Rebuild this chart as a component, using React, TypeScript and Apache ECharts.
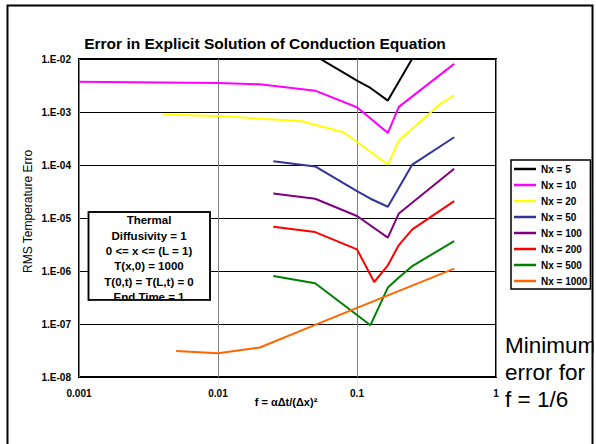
import React, { useEffect, useRef } from "react";
import * as echarts from "echarts";

const seriesNames = ["Nx = 5", "Nx = 10", "Nx = 20", "Nx = 50", "Nx = 100", "Nx = 200", "Nx = 500", "Nx = 1000"];
const seriesColors = ["#000000", "#FF00FF", "#FFFF00", "#333399", "#800080", "#FF0000", "#008000", "#FF6600"];

// [f, RMS error]
const nx5 = [[0.05, 0.0115], [0.1, 0.0039], [0.125, 0.00284], [0.1667, 0.00164], [0.25, 0.0102]];
const nx10 = [[0.001, 0.00374], [0.01, 0.00353], [0.02, 0.00333], [0.05, 0.00253], [0.1, 0.00123], [0.1667, 0.000404], [0.2, 0.00125], [0.5, 0.0081]];
const nx20 = [[0.004, 0.000893], [0.01, 0.000845], [0.04, 0.000668], [0.08, 0.000415], [0.1667, 0.000102], [0.2, 0.000289], [0.4, 0.00144], [0.5, 0.00207]];
const nx50 = [[0.025, 1.18e-4], [0.05, 9.4e-5], [0.1, 3.21e-5], [0.125, 2.31e-5], [0.1667, 1.63e-5], [0.25, 1.02e-4], [0.5, 3.34e-4]];
const nx100 = [[0.025, 2.9e-5], [0.05, 2.31e-5], [0.1, 1.09e-5], [0.1667, 4.26e-6], [0.2, 1.22e-5], [0.5, 8.47e-5]];
const nx200 = [[0.025, 6.86e-6], [0.05, 5.43e-6], [0.1, 2.56e-6], [0.133, 6.2e-7], [0.1667, 1.28e-6], [0.2, 3.09e-6], [0.25, 6.1e-6], [0.5, 2.08e-5]];
const nx500 = [[0.025, 8.05e-7], [0.05, 5.86e-7], [0.125, 9.5e-8], [0.1667, 4.86e-7], [0.2, 7.52e-7], [0.25, 1.24e-6], [0.5, 3.67e-6]];
const nx1000 = [[0.005, 3.11e-8], [0.01, 2.82e-8], [0.02, 3.6e-8], [0.05, 9.6e-8], [0.1, 2.02e-7], [0.5, 1.11e-6]];
const allSeries = [nx5, nx10, nx20, nx50, nx100, nx200, nx500, nx1000];

const xTickLabels = ["0.001", "0.01", "0.1", "1"];
const yTickLabels = ["1.E-02", "1.E-03", "1.E-04", "1.E-05", "1.E-06", "1.E-07", "1.E-08"];

const titleText = "Error in Explicit Solution of Conduction Equation";
const xAxisTitle = "f = αΔt/(Δx)²";
const yAxisTitle = "RMS Temperature Error";
const boxLines = ["Thermal", "Diffusivity = 1", "0 <= x <= (L = 1)", "T(x,0) = 1000", "T(0,t) = T(L,t) = 0", "End Time = 1"];
const noteLines = ["Minimum", "error for", "f = 1/6"];

const FONT = '"Liberation Sans", Arial, sans-serif';

export default function App() {
  const ref = useRef<HTMLDivElement>(null);
  useEffect(() => {
    document.body.style.margin = "0";
    const chart = echarts.init(ref.current!, null, { renderer: "svg" });
    const txt = (text: string, x: number, y: number, font: string, align = "center", extra: any = {}) => ({
      type: "text",
      x,
      y,
      z: 50,
      ...extra,
      style: { text, font, fill: "#000", align, textAlign: align, verticalAlign: "middle", textVerticalAlign: "middle" },
    });
    const graphic: any[] = [
      txt(titleText, 265, 43, `bold 15.5px ${FONT}`),
      txt(yAxisTitle, 27.5, 273, `12px ${FONT}`, "left", { rotation: Math.PI / 2 }),
      { type: "rect", z: 60, shape: { x: 14, y: 58, width: 23, height: 91 }, style: { fill: "#fff" } },
      txt(xAxisTitle, 286, 402, `bold 11px ${FONT}`),
      { type: "rect", z: 40, shape: { x: 88.5, y: 212, width: 121.5, height: 88 }, style: { fill: "#fff", stroke: "#000", lineWidth: 1.5 } },
      ...boxLines.map((l, i) => txt(l, 149, 220.3 + i * 15.3, `bold 11.5px ${FONT}`)),
      { type: "rect", z: 60, shape: { x: 89.5, y: 300.5, width: 119.5, height: 6 }, style: { fill: "#fff" } },
      { type: "rect", z: 61, shape: { x: 88.5, y: 212, width: 121.5, height: 88 }, style: { fill: "none", stroke: "#000", lineWidth: 1.5 } },
      ...noteLines.map((l, i) => txt(l, 505, 345 + i * 27.3, `22.5px ${FONT}`, "left")),
      { type: "rect", z: 70, shape: { x: 593.5, y: 0, width: 4, height: 444 }, style: { fill: "#fff" } },
      { type: "rect", z: 80, shape: { x: 7.5, y: 5.5, width: 585, height: 470 }, style: { fill: "none", stroke: "#000", lineWidth: 2 } },
    ];
    chart.setOption({
      animation: false,
      backgroundColor: "#fff",
      grid: { left: 79, right: 100, top: 59, bottom: 67, show: true, borderColor: "#000", borderWidth: 2, backgroundColor: "#fff" },
      xAxis: {
        type: "log",
        logBase: 10,
        min: 0.001,
        max: 1,
        axisLine: { show: false },
        axisTick: { show: false },
        splitLine: { show: true, lineStyle: { color: "#808080", width: 1 } },
        axisLabel: {
          margin: 11,
          color: "#000",
          fontFamily: FONT,
          fontWeight: "bold",
          fontSize: 10,
          formatter: (v: number) => xTickLabels[Math.round(Math.log10(v)) + 3],
        },
      },
      yAxis: {
        type: "log",
        logBase: 10,
        min: 1e-8,
        max: 1e-2,
        axisLine: { show: false },
        axisTick: { show: false },
        splitLine: { show: true, lineStyle: { color: "#000", width: 1 } },
        axisLabel: {
          margin: 8,
          color: "#000",
          fontFamily: FONT,
          fontWeight: "bold",
          fontSize: 10,
          formatter: (v: number) => yTickLabels[-Math.round(Math.log10(v)) - 2],
        },
      },
      legend: {
        orient: "vertical",
        left: 511,
        top: 160,
        padding: [3, 3, 2, 3],
        itemGap: 4,
        itemWidth: 22,
        itemHeight: 2.5,
        icon: "rect",
        borderColor: "#000",
        borderWidth: 1.5,
        backgroundColor: "#fff",
        data: seriesNames,
        textStyle: { fontFamily: FONT, fontWeight: "bold", fontSize: 10, color: "#000", lineHeight: 12 },
      },
      series: allSeries.map((d, i) => ({
        name: seriesNames[i],
        type: "line",
        data: d,
        symbol: "none",
        color: seriesColors[i],
        lineStyle: { color: seriesColors[i], width: 2 },
        clip: true,
      })),
      graphic,
    });
    return () => chart.dispose();
  }, []);
  return <div ref={ref} style={{ width: 596, height: 444 }} />;
}
